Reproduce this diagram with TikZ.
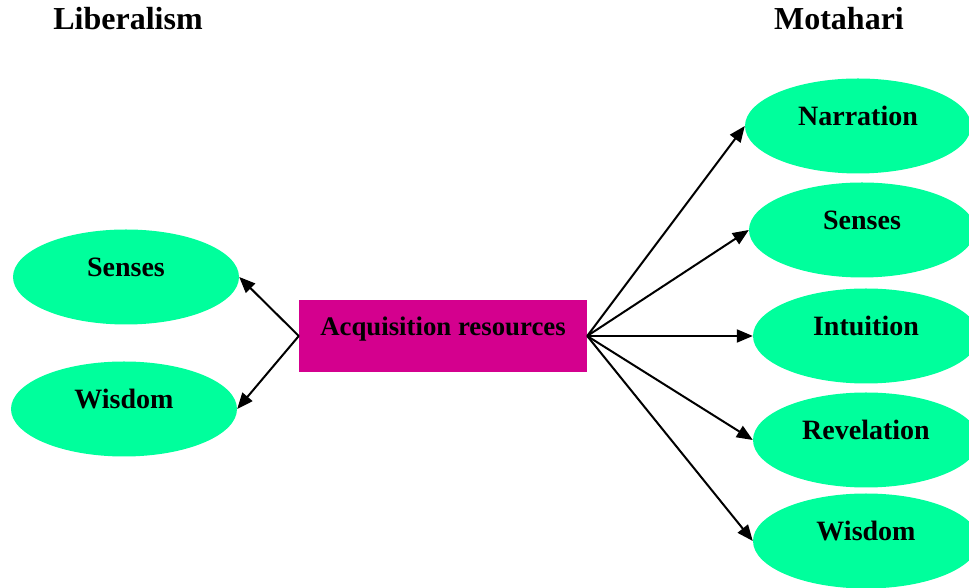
\documentclass[tikz,border=0pt]{standalone}
\usepackage{fontspec}
\setmainfont{Liberation Serif}
\usetikzlibrary{arrows.meta, shapes.geometric}
\definecolor{mintgreen}{RGB}{0,255,156}
\definecolor{deepmagenta}{RGB}{212,0,142}
\begin{document}
\begin{tikzpicture}[x=1pt, y=1pt,
    source/.style={ellipse, fill=mintgreen, minimum width=226pt, minimum height=95pt, inner sep=0pt, font=\fontsize{28}{30}\selectfont\bfseries, text height=18pt, text depth=18pt},
    hub/.style={rectangle, fill=deepmagenta, minimum width=288pt, minimum height=72pt, inner sep=0pt, font=\fontsize{26.8}{30}\selectfont\bfseries, text height=18pt, text depth=18pt},
    heading/.style={font=\fontsize{32}{34}\selectfont\bfseries, anchor=base},
    link/.style={-{Triangle[length=16pt,width=13pt]}, line width=2pt}]
    \useasboundingbox (0,0) rectangle (969,588);
    \node [heading] (liberal) at (128,558) {Liberalism};
    \node [heading] (motahari) at (839,558) {Motahari};
    \node [hub] (acq) at (443,252) {Acquisition resources};
    % liberalism side
    \node [source] (lsenses) at (126,311) {Senses};
    \node [source] (lwisdom) at (124,179) {Wisdom};
    % motahari side
    \node [source] (narration) at (858,462) {Narration};
    \node [source] (rsenses) at (862,358) {Senses};
    \node [source] (intuition) at (866,252) {Intuition};
    \node [source] (revelation) at (866,148) {Revelation};
    \node [source] (rwisdom) at (866,47) {Wisdom};
    \draw [link] (acq.west) -- (lsenses.east);
    \draw [link] (acq.west) -- (lwisdom.east);
    \foreach \t in {narration, rsenses, intuition, revelation, rwisdom}
        \draw [link] (acq.east) -- (\t.west);
\end{tikzpicture}
\end{document}
